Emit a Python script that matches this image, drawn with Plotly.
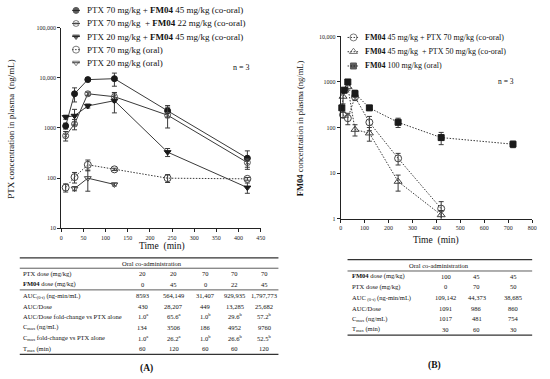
import plotly.graph_objects as go

W, H = 550, 379
FONT = "Liberation Serif"

# ---------------- Panel A data (PTX) ----------------
tA = [10, 30, 60, 120, 240, 420]
ptx70_fm45 = [1100, 4800, 9200, 9600, 2200, 250]
ptx70_fm45_err = [150, 1500, 600, 2800, 600, 100]
ptx70_fm22 = [700, 1200, 4800, 4200, 1800, 205]
ptx70_fm22_err = [150, 280, 400, 900, 800, 40]
ptx20_fm45 = [1650, 1750, 2750, 3500, 330, 65]
ptx20_fm45_err = [150, 600, 250, 1500, 60, 15]
ptx70_oral = [65, 105, 185, 150, 100, 97]
ptx70_oral_err = [12, 25, 45, 8, 18, 6]
tA5 = [30, 60, 120]
ptx20_oral = [62, 100, 75]
ptx20_oral_err = [6, 45, 5]

# ---------------- Panel B data (FM04) ----------------
tB_sq = [5, 15, 30, 60, 120, 240, 420, 720]
fm100 = [270, 660, 1000, 560, 270, 130, 60, 43]
fm100_err = [30, 80, 60, 100, 30, 30, 18, 7]
tB = [10, 30, 60, 120, 240, 420]
fm45_ptx70 = [190, 160, 470, 130, 21, 1.65]
fm45_ptx70_err = [25, 45, 80, 45, 6, 0.7]
fm45_ptx50 = [480, 780, 90, 75, 6.5, 1.2]
fm45_ptx50_err = [150, 120, 25, 25, 2.5, 0.3]

# ---------------- Tables ----------------
tabA_labels = ["PTX dose (mg/kg)", "<b>FM04</b> dose (mg/kg)",
               "AUC<sub>(0-t)</sub> (ng-min/mL)", "AUC/Dose",
               "AUC/Dose fold-change vs PTX alone", "C<sub>max</sub> (ng/mL)",
               "C<sub>max</sub> fold-change vs PTX alone", "T<sub>max</sub> (min)"]
tabA_rows = [
    ["20", "20", "70", "70", "70"],
    ["0", "45", "0", "22", "45"],
    ["8593", "564,149", "31,407", "929,935", "1,797,773"],
    ["430", "28,207", "449", "13,285", "25,682"],
    ["1.0<sup>a</sup>", "65.6<sup>a</sup>", "1.0<sup>b</sup>", "29.6<sup>b</sup>", "57.2<sup>b</sup>"],
    ["134", "3506", "186", "4952", "9760"],
    ["1.0<sup>a</sup>", "26.2<sup>a</sup>", "1.0<sup>b</sup>", "26.6<sup>b</sup>", "52.5<sup>b</sup>"],
    ["60", "120", "60", "60", "120"],
]
tabB_labels = ["<b>FM04</b> dose (mg/kg)", "PTX dose (mg/kg)",
               "AUC <sub>(0-t)</sub> (ng-min/mL)", "AUC/Dose",
               "C<sub>max</sub> (ng/mL)", "T<sub>max</sub> (min)"]
tabB_rows = [
    ["100", "45", "45"],
    ["0", "70", "50"],
    ["109,142", "44,373", "38,685"],
    ["1091", "986", "860"],
    ["1017", "481", "754"],
    ["30", "60", "30"],
]

legendA = ["PTX 70 mg/kg + <b>FM04</b> 45 mg/kg (co-oral)",
           "PTX 70 mg/kg  + <b>FM04</b> 22 mg/kg (co-oral)",
           "PTX 20 mg/kg + <b>FM04</b> 45 mg/kg (co-oral)",
           "PTX 70 mg/kg (oral)",
           "PTX 20 mg/kg (oral)"]
legendB = ["<b>FM04</b> 45 mg/kg + PTX 70 mg/kg (co-oral)",
           "<b>FM04</b> 45 mg/kg  + PTX 50 mg/kg (co-oral)",
           "<b>FM04</b> 100 mg/kg (oral)"]


def px(x):
    return x / W


def py(y):
    return 1 - y / H


MK = "#1a1a1a"
LN = "#3a3a3a"
DOT = "1.5px,1.5px"

seriesA = [
    (tA, ptx70_fm45, ptx70_fm45_err, "circle", "solid", MK, 6),
    (tA, ptx70_fm22, ptx70_fm22_err, "circle-x-open", "solid", "#555555", 6),
    (tA, ptx20_fm45, ptx20_fm45_err, "triangle-down", "solid", MK, 6),
    (tA, ptx70_oral, ptx70_oral_err, "circle-open", DOT, "#444444", 7),
    (tA5, ptx20_oral, ptx20_oral_err, "triangle-down-open", "solid", "#444444", 6),
]
seriesB = [
    (tB, fm45_ptx70, fm45_ptx70_err, "circle-open", DOT, "#444444", 7),
    (tB, fm45_ptx50, fm45_ptx50_err, "triangle-up-open", DOT, "#444444", 7),
    (tB_sq, fm100, fm100_err, "square", DOT, MK, 6),
]

fig = go.Figure()

for xs, ys, es, sym, dash, col, sz in seriesA:
    fig.add_trace(go.Scatter(
        x=xs, y=ys, mode="lines+markers", xaxis="x", yaxis="y",
        line=dict(color=LN, width=1, dash=dash),
        marker=dict(symbol=sym, size=sz, color=col, line=dict(color=col, width=1)),
        error_y=dict(type="data", array=es, visible=True, color=LN, thickness=1, width=2.5),
        showlegend=False, cliponaxis=False))

for xs, ys, es, sym, dash, col, sz in seriesB:
    fig.add_trace(go.Scatter(
        x=xs, y=ys, mode="lines+markers", xaxis="x2", yaxis="y2",
        line=dict(color=LN, width=1, dash=dash),
        marker=dict(symbol=sym, size=sz, color=col, line=dict(color=col, width=1)),
        error_y=dict(type="data", array=es, visible=True, color=LN, thickness=1, width=2.5),
        showlegend=False, cliponaxis=False))

# manual legends on an overlay pixel axis
annotations = []
legA_y0, legA_dy, legA_x = 7.5, 13.3, 75
for i, (s, txt) in enumerate(zip(seriesA, legendA)):
    yy = legA_y0 + i * legA_dy
    _, _, _, sym, dash, col, sz = s
    fig.add_trace(go.Scatter(
        x=[legA_x - 4, legA_x, legA_x + 4], y=[yy, yy, yy], mode="lines+markers",
        xaxis="x3", yaxis="y3", showlegend=False,
        line=dict(color=LN, width=1, dash=dash),
        marker=dict(symbol=sym, size=[0, sz, 0], color=col, line=dict(color=col, width=1))))
    annotations.append(dict(x=px(84), y=py(yy), xref="paper", yref="paper", text=txt,
                            showarrow=False, xanchor="left", yanchor="middle",
                            font=dict(family=FONT, size=9, color="#111")))

legB_y0, legB_dy, legB_x = 35, 14.5, 356
for i, (s, txt) in enumerate(zip(seriesB, legendB)):
    yy = legB_y0 + i * legB_dy
    _, _, _, sym, dash, col, sz = s
    fig.add_trace(go.Scatter(
        x=[legB_x - 6, legB_x, legB_x + 6], y=[yy, yy, yy], mode="lines+markers",
        xaxis="x3", yaxis="y3", showlegend=False,
        line=dict(color=LN, width=1, dash=dash),
        marker=dict(symbol=sym, size=[0, sz, 0], color=col, line=dict(color=col, width=1))))
    annotations.append(dict(x=px(366), y=py(yy), xref="paper", yref="paper", text=txt,
                            showarrow=False, xanchor="left", yanchor="middle",
                            font=dict(family=FONT, size=8, color="#111")))


def ann(x, y, text, size=8, xanchor="center", angle=0, yanchor="middle"):
    annotations.append(dict(x=px(x), y=py(y), xref="paper", yref="paper", text=text,
                            showarrow=False, xanchor=xanchor, yanchor=yanchor,
                            textangle=angle, font=dict(family=FONT, size=size, color="#111")))

ann(9, 128, "PTX concentration in plasma  (ng/mL)", size=9, angle=-90)
ann(302, 127, "<b>FM04</b> concentration in plasma (ng/mL)", size=8.5, angle=-90)
ann(162, 247, "Time  (min)", size=9.5)
ann(440, 241, "Time  (min)", size=9.5)
ann(243, 66, "n = 3", size=8)
ann(510, 80, "n = 3", size=7.5)
ann(146, 371, "<b>(A)</b>", size=9.5)
ann(438, 368, "<b>(B)</b>", size=9.5)

shapes = []


def hline(x0, x1, y, w=1):
    shapes.append(dict(type="line", xref="paper", yref="paper", x0=px(x0), x1=px(x1),
                       y0=py(y), y1=py(y), line=dict(color="#333", width=w)))

# Table A
TA_x0, TA_x1 = 18, 280
hline(TA_x0, TA_x1, 259, 1.2)
hline(TA_x0, TA_x1, 269.5, 0.8)
hline(TA_x0, TA_x1, 291.5, 0.8)
hline(TA_x0, TA_x1, 357, 1.2)
ann(152, 264.3, "Oral co-administration", size=6.5)
rowsA_y = [275, 286, 297.3, 308, 318.5, 329.3, 340.3, 351.5]
colsA_x = [142.7, 174, 206, 236, 265.7]
for lab, ry, vals in zip(tabA_labels, rowsA_y, tabA_rows):
    ann(19, ry, lab, size=6.5, xanchor="left")
    for cx, v in zip(colsA_x, vals):
        ann(cx, ry, v, size=6.5)

# Table B
TB_x0, TB_x1 = 350, 537
hline(TB_x0, TB_x1, 260.7, 1.2)
hline(TB_x0, TB_x1, 272.3, 0.8)
hline(TB_x0, TB_x1, 337.5, 1.2)
ann(443, 266.7, "Oral co-administration", size=6.5)
rowsB_y = [277.7, 288.3, 299.3, 310.5, 321, 331.7]
colsB_x = [449.3, 480.7, 517.7]
for lab, ry, vals in zip(tabB_labels, rowsB_y, tabB_rows):
    ann(352.5, ry, lab, size=6.5, xanchor="left")
    for cx, v in zip(colsB_x, vals):
        ann(cx, ry, v, size=6.5)

axis_common = dict(showline=True, linecolor="#222", linewidth=1, ticks="outside",
                   ticklen=3, tickwidth=1, tickcolor="#222", showgrid=False,
                   zeroline=False, tickfont=dict(family=FONT, size=6, color="#222"))

fig.update_layout(
    width=W, height=H, margin=dict(l=0, r=0, t=0, b=0),
    paper_bgcolor="white", plot_bgcolor="rgba(0,0,0,0)",
    showlegend=False,
    xaxis=dict(domain=[px(60), px(262)], range=[0, 450], tickvals=list(range(0, 451, 50)),
               anchor="y", **axis_common),
    yaxis=dict(domain=[py(229), py(25)], type="log", range=[1, 5],
               tickvals=[10, 100, 1000, 10000, 100000],
               ticktext=["10", "100", "1000", "10,000", "100,000"], anchor="x", **axis_common),
    xaxis2=dict(domain=[px(343), px(537)], range=[0, 800], tickvals=list(range(0, 801, 100)),
                anchor="y2", **axis_common),
    yaxis2=dict(domain=[py(219), py(34)], type="log", range=[0, 4],
                tickvals=[1, 10, 100, 1000, 10000],
                ticktext=["1", "10", "100", "1000", "10,000"], anchor="x2", **axis_common),
    xaxis3=dict(domain=[0, 1], range=[0, W], visible=False, anchor="y3"),
    yaxis3=dict(domain=[0, 1], range=[H, 0], visible=False, anchor="x3"),
    annotations=annotations, shapes=shapes,
)

fig.write_html("out.html", config={"displayModeBar": False},
               post_script="document.body.style.margin='0';document.body.style.overflow='hidden';")
